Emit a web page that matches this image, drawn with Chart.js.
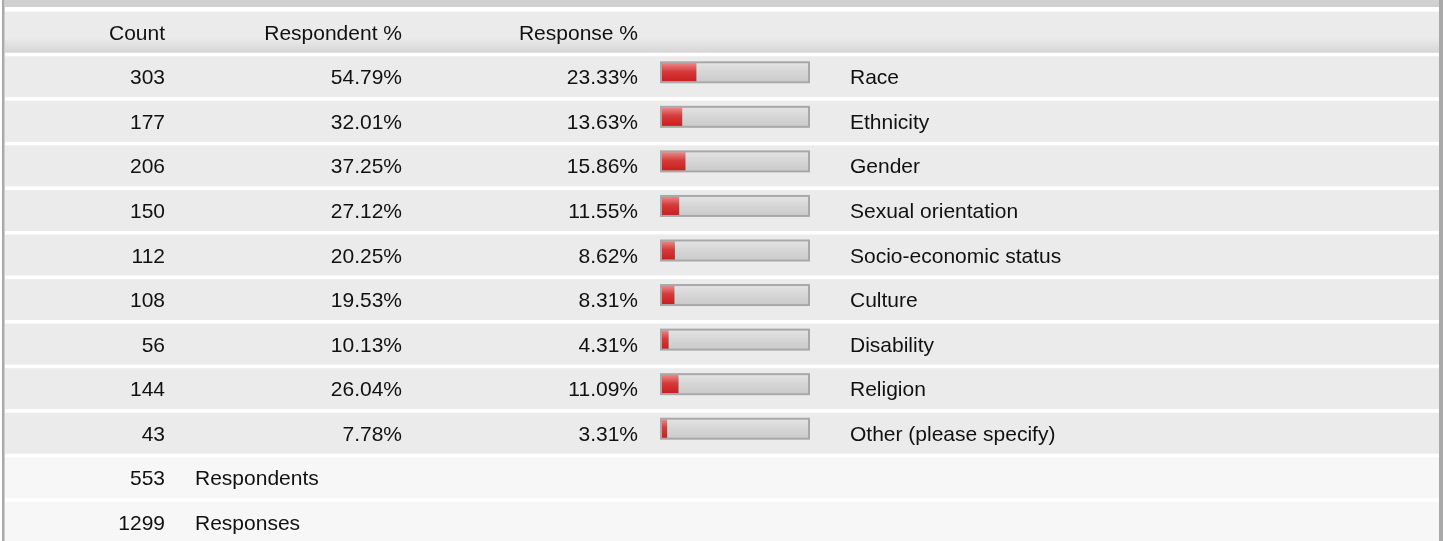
<!DOCTYPE html>
<html>
<head>
<meta charset="utf-8">
<title>Survey responses</title>
<script src="https://cdn.jsdelivr.net/npm/chart.js@4.4.1/dist/chart.umd.min.js"></script>
<style>
body{margin:0;background:#fff;}
#wrap{width:1443px;height:541px;}
</style>
</head>
<body>
<div id="wrap"><canvas id="barChart" width="1443" height="541"></canvas></div>
<script>
var categories = ["Race", "Ethnicity", "Gender", "Sexual orientation", "Socio-economic status",
	"Culture", "Disability", "Religion", "Other (please specify)"];
var counts = [303, 177, 206, 150, 112, 108, 56, 144, 43];
var respondentPct = [54.79, 32.01, 37.25, 27.12, 20.25, 19.53, 10.13, 26.04, 7.78];
var responsePct = [23.33, 13.63, 15.86, 11.55, 8.62, 8.31, 4.31, 11.09, 3.31];
var trackMax = [100, 100, 100, 100, 100, 100, 100, 100, 100];
var headers = ["Count", "Respondent %", "Response %"];
var totals = [553, 1299];
var totalLabels = ["Respondents", "Responses"];

var FONT = '21px "Liberation Sans", Arial, sans-serif';

// top of a table row, rows follow the category scale (-1 = header, 9.. = totals)
function rowTop(chart, i){
	var y = chart.scales.y;
	var pitch = y.getPixelForValue(1) - y.getPixelForValue(0);
	return y.getPixelForValue(0) + pitch * i - 16;
}

function barGradient(ctx, stops, fallback){
	var chart = ctx.chart;
	if(!chart.chartArea || ctx.type !== 'data') return fallback;
	var yc = chart.scales.y.getPixelForValue(ctx.dataIndex);
	var g = chart.ctx.createLinearGradient(0, yc - 9, 0, yc + 9);
	for(var k=0;k<stops.length;k++){
		g.addColorStop(stops[k][0], stops[k][1]);
	}
	return g;
}

var tablePlugin = {
	id: 'surveyTable',
	beforeDraw: function(chart){
		var c = chart.ctx;
		var W = chart.width, H = chart.height;
		c.save();
		c.fillStyle = '#ffffff';
		c.fillRect(0, 0, W, H);
		// top band
		c.fillStyle = '#d0d0d0';
		c.fillRect(5, 0, 1434, 7);
		// header row
		var t = rowTop(chart, -1);
		var g = c.createLinearGradient(0, t, 0, t + 41);
		g.addColorStop(0, '#ebebeb');
		g.addColorStop(0.65, '#ebebeb');
		g.addColorStop(1, '#d5d5d5');
		c.fillStyle = g;
		c.fillRect(5, t, 1434, 41);
		// data rows
		c.fillStyle = '#ebebeb';
		for(var i=0;i<categories.length;i++){
			c.fillRect(5, rowTop(chart, i), 1434, 41);
		}
		// totals rows
		c.fillStyle = '#f7f7f7';
		for(var j=0;j<totals.length;j++){
			c.fillRect(5, rowTop(chart, categories.length + j), 1434, 41);
		}
		// side borders
		c.fillStyle = '#a9a9a9';
		c.fillRect(2, 0, 2, H);
		c.fillRect(1439, 0, 4, H);
		c.fillStyle = '#cfcfcf';
		c.fillRect(4, 0, 1, H);
		c.restore();
	},
	afterDatasetsDraw: function(chart){
		var c = chart.ctx;
		var meta = chart.getDatasetMeta(0);
		c.save();
		c.strokeStyle = '#a8a8a8';
		c.lineWidth = 2;
		for(var i=0;i<meta.data.length;i++){
			var el = meta.data[i];
			c.strokeRect(el.base - 1, el.y - el.height / 2 - 1, el.x - el.base + 2, el.height + 2);
		}
		c.restore();
	},
	afterDraw: function(chart){
		var c = chart.ctx;
		c.save();
		c.font = FONT;
		c.fillStyle = '#111111';
		c.textBaseline = 'alphabetic';
		var t = rowTop(chart, -1) + 28;
		c.textAlign = 'right';
		c.fillText(headers[0], 165, t);
		c.fillText(headers[1], 402, t);
		c.fillText(headers[2], 638, t);
		for(var i=0;i<categories.length;i++){
			var b = rowTop(chart, i) + 28;
			c.textAlign = 'right';
			c.fillText(String(counts[i]), 165, b);
			c.fillText(respondentPct[i].toFixed(2) + '%', 402, b);
			c.fillText(responsePct[i].toFixed(2) + '%', 638, b);
			c.textAlign = 'left';
			c.fillText(categories[i], 850, b);
		}
		for(var j=0;j<totals.length;j++){
			var b2 = rowTop(chart, categories.length + j) + 28;
			c.textAlign = 'right';
			c.fillText(String(totals[j]), 165, b2);
			c.textAlign = 'left';
			c.fillText(totalLabels[j], 195, b2);
		}
		c.restore();
	}
};

var barChartCanvas = document.getElementById('barChart').getContext('2d');
var myChart = new Chart(barChartCanvas, {
	type: 'bar',
	data: {
		labels: categories,
		datasets: [
			{
				label: 'Track',
				data: trackMax,
				order: 2,
				backgroundColor: function(ctx){
					return barGradient(ctx, [[0, '#e2e2e2'], [0.5, '#d6d6d6'], [1, '#cbcbcb']], '#d6d6d6');
				}
			},
			{
				label: 'Response %',
				data: responsePct,
				order: 1,
				backgroundColor: function(ctx){
					return barGradient(ctx, [[0, '#e98686'], [0.45, '#d63a3a'], [1, '#c91f1f']], '#cc2222');
				}
			}
		]
	},
	options: {
		indexAxis: 'y',
		responsive: false,
		animation: false,
		events: [],
		datasets: {
			bar: {
				grouped: false,
				barThickness: 18,
				borderWidth: 0,
				borderSkipped: false
			}
		},
		layout: {
			padding: { left: 662, right: 635, top: 50, bottom: 90 }
		},
		scales: {
			x: { display: false, min: 0, max: 100 },
			y: { display: false }
		},
		plugins: {
			legend: { display: false },
			tooltip: { enabled: false }
		}
	},
	plugins: [tablePlugin]
});
</script>
</body>
</html>
